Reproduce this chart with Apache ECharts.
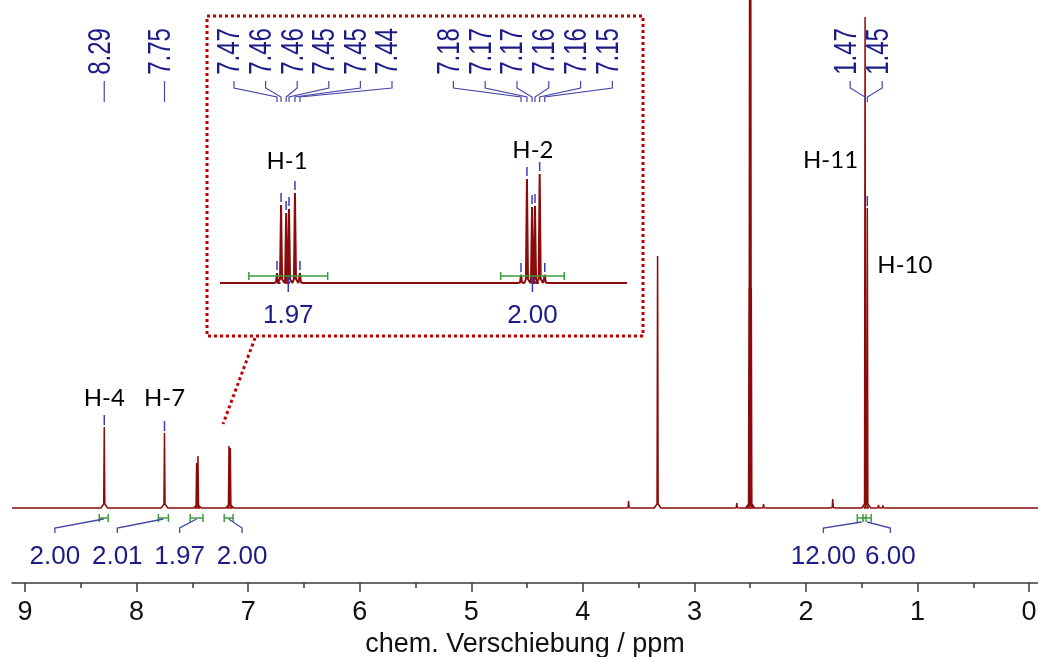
<!DOCTYPE html>
<html><head><meta charset="utf-8">
<script src="https://cdn.jsdelivr.net/npm/echarts@6/dist/echarts.min.js"></script>
<style>html,body{margin:0;padding:0;background:#fff}#c{width:1038px;height:657px}</style>
</head><body><div id="c"></div>
<script>
// ================= DATA =================
const axisMajorTicks = [0, 1, 2, 3, 4, 5, 6, 7, 8, 9];
const axisMinorTicks = [0.5, 1.5, 2.5, 3.5, 4.5, 5.5, 6.5, 7.5, 8.5];
const axisTitle = 'chem. Verschiebung / ppm';

// main spectrum peaks (ppm, relative intensity)
const mainPeakPpm    = [8.29, 7.75, 7.462, 7.450, 7.172, 7.160, 3.59, 3.33, 3.08, 2.62, 2.51, 2.505, 2.50, 2.495, 2.49, 2.38, 1.76, 1.56, 1.47, 1.45, 1.35, 1.31, 1.17];
const mainPeakHeight = [81,   75,   45,    52,    62,    60,    7,    252,  1,    5,    220,  600,   700,  600,   220,  4,    9,    2,    491,  300,  3,    2.5,  2];
const mainPickedPpm  = [8.29, 7.75, 1.45];

// inset (expanded 7.53 – 7.05 ppm)
const insetRange     = [7.054, 7.534];
const insetPeakPpm    = [7.4668, 7.462, 7.456, 7.4526, 7.4456, 7.4397, 7.179, 7.172, 7.166, 7.1625, 7.157, 7.151];
const insetPeakHeight = [10,     78,    70,    74,     90,     10,     8,     104,   76,    77,     109,   8];

// chemical-shift labels
const shiftTextMain = ['8.29', '7.75'];
const shiftPpmMain  = [8.29, 7.75];
const shiftTextCH3  = ['1.47', '1.45'];
const shiftPpmCH3   = [1.47, 1.45];
const shiftTextH1   = ['7.47', '7.46', '7.46', '7.45', '7.45', '7.44'];
const shiftTextH2   = ['7.18', '7.17', '7.17', '7.16', '7.16', '7.15'];

// integrals
const integralFrom  = [8.335, 7.805, 7.52, 7.215, 1.54, 1.488];
const integralTo    = [8.255, 7.715, 7.405, 7.135, 1.462, 1.415];
const integralValue = ['2.00', '2.01', '1.97', '2.00', '12.00', '6.00'];
const insetIntegralFrom  = [7.500, 7.203];
const insetIntegralTo    = [7.407, 7.128];
const insetIntegralValue = ['1.97', '2.00'];

// assignments
const assignText = ['H-4', 'H-7', 'H-11', 'H-10'];
const assignPpm  = [8.29, 7.75, 1.47, 1.45];
const insetAssignText = ['H-1', 'H-2'];
const insetAssignPpm  = [7.455, 7.165];

// ================= STYLE =================
const RED = '#8b0a0a', BLUE_T = '#1c1c88', BLUE_L = '#4646a8', BLUE_K = '#3c3cb8', GREEN = '#3a9e3a', AX = '#3a3a3a';
const NUMFONT = '"Liberation Sans", Arial, sans-serif';
const HFONT = 'Lato, "Open Sans", sans-serif';

function buildSpectrum(ppm, h, lo, hi, w, foot) {
  const idx = ppm.map((_, i) => i).sort((a, b) => ppm[b] - ppm[a]);
  const pts = [[hi, 0]];
  idx.forEach(i => {
    const p = ppm[i], v = h[i], f = Math.min(v * 0.05, 4);
    pts.push([p + foot, 0], [p + w, f], [p, v], [p - w, f], [p - foot, 0]);
  });
  pts.push([lo, 0]);
  return pts;
}

const XMIN = -0.08, XMAX = 9.117;
const option = {
  animation: false,
  backgroundColor: '#fff',
  grid: [
    {left: 12, right: 0, top: 0, bottom: 74, containLabel: false, outerBoundsMode: 'none'},
    {left: 220, right: 411, top: 100, bottom: 374, containLabel: false, outerBoundsMode: 'none'},
    {left: 12, right: 0, top: 0, bottom: 74, containLabel: false, outerBoundsMode: 'none'}
  ],
  xAxis: [
    {gridIndex: 0, type: 'value', inverse: true, min: XMIN, max: XMAX, position: 'bottom',
     axisLine: {onZero: false, lineStyle: {color: AX, width: 1.5}},
     axisTick: {customValues: axisMajorTicks, length: 9, lineStyle: {color: AX, width: 1.5}},
     axisLabel: {customValues: axisMajorTicks, fontSize: 27, color: '#111', margin: 16, fontFamily: NUMFONT},
     splitLine: {show: false},
     name: axisTitle, nameLocation: 'middle', nameGap: 45,
     nameTextStyle: {fontSize: 27, color: '#111', fontFamily: NUMFONT}},
    {gridIndex: 1, type: 'value', inverse: true, min: insetRange[0], max: insetRange[1], show: false},
    {gridIndex: 2, type: 'value', inverse: true, min: XMIN, max: XMAX, position: 'bottom',
     axisLine: {show: false, onZero: false},
     axisTick: {customValues: axisMinorTicks, length: 5, lineStyle: {color: AX, width: 1.5}},
     axisLabel: {show: false}, splitLine: {show: false}}
  ],
  yAxis: [
    {gridIndex: 0, type: 'value', min: -75, max: 508, show: false},
    {gridIndex: 1, type: 'value', min: 0, max: 183, show: false},
    {gridIndex: 2, type: 'value', min: 0, max: 1, show: false}
  ],
  series: [
    {type: 'line', xAxisIndex: 0, yAxisIndex: 0, symbol: 'none', clip: true,
     lineStyle: {color: RED, width: 1.5},
     data: buildSpectrum(mainPeakPpm, mainPeakHeight, XMIN, XMAX, 0.005, 0.03)},
    {type: 'line', xAxisIndex: 1, yAxisIndex: 1, symbol: 'none', clip: true,
     lineStyle: {color: RED, width: 2},
     data: buildSpectrum(insetPeakPpm, insetPeakHeight, insetRange[0], insetRange[1], 0.0012, 0.004)}
  ]
};

const chart = echarts.init(document.getElementById('c'));
chart.setOption(option);

// ================= ANNOTATIONS (positions from the axes) =================
const P = (ppm, v) => chart.convertToPixel({gridIndex: 0}, [ppm, v]);
const Q = (ppm, v) => chart.convertToPixel({gridIndex: 1}, [ppm, v]);
const G = [];
const poly = (pts, color, w, dash) => G.push({type: 'polyline', silent: true, z: 10,
  shape: {points: pts}, style: {stroke: color, lineWidth: w, fill: null, lineDash: dash || null}});
const txt = (x, y, s, font, color, align, rot, sy) => G.push({type: 'text', silent: true, z: 11, x: x, y: y,
  rotation: rot || 0, scaleY: sy || 1,
  style: {text: s, font: font, fill: color, align: align || 'center', verticalAlign: 'middle',
          textAlign: align || 'center', textVerticalAlign: 'middle'}});

// inset frame + connector
poly([[207, 16], [643, 16], [643, 336], [207, 336], [207, 16]], '#c00000', 3, [3, 3]);
poly([[255, 338], [223, 424]], '#c00000', 3, [3, 3]);

// shift label groups
function shiftGroup(labels, peakXs, center, spacing) {
  const n = labels.length;
  labels.forEach((s, i) => {
    const xl = center + (i - (n - 1) / 2) * spacing;
    const xp = peakXs[i];
    txt(xl - 3, 51.5, s, '24px ' + NUMFONT, BLUE_T, 'center', Math.PI / 2, 1.28);
    poly([[xl, 81], [xl, 88], [xp, 97], [xp, 102]], BLUE_L, 1.2);
  });
}
shiftPpmMain.forEach((p, i) => { const x = P(p, 0)[0]; shiftGroup([shiftTextMain[i]], [x], x, 0); });
const ch3X = shiftPpmCH3.map(p => P(p, 0)[0]);
shiftGroup(shiftTextCH3, ch3X, (ch3X[0] + ch3X[1]) / 2, 32);
const h1X = insetPeakPpm.slice(0, 6).map(p => Q(p, 0)[0]);
const h2X = insetPeakPpm.slice(6).map(p => Q(p, 0)[0]);
shiftGroup(shiftTextH1, h1X, Q(insetAssignPpm[0], 0)[0] + 26, 31.6);
shiftGroup(shiftTextH2, h2X, Q(insetAssignPpm[1], 0)[0], 31.8);

// peak pick ticks
mainPickedPpm.forEach(p => {
  const h = mainPeakHeight[mainPeakPpm.indexOf(p)];
  const t = P(p, h);
  poly([[t[0], t[1] - 2], [t[0], t[1] - 12]], BLUE_K, 1.5);
});
insetPeakPpm.forEach((p, i) => {
  const t = Q(p, insetPeakHeight[i]);
  poly([[t[0], t[1] - 3], [t[0], t[1] - 12]], BLUE_K, 1.5);
});

// main integrals
const base = P(0, 0)[1];
const intCenters = integralFrom.map((f, i) => (P(f, 0)[0] + P(integralTo[i], 0)[0]) / 2);
integralFrom.forEach((f, i) => {
  const x1 = P(f, 0)[0], x2 = P(integralTo[i], 0)[0], y = base + 10;
  poly([[x1, y], [x2, y]], GREEN, 1.5);
  poly([[x1, y - 4], [x1, y + 4]], GREEN, 1.5);
  poly([[x2, y - 4], [x2, y + 4]], GREEN, 1.5);
});
const intGroups = [{members: [0, 1, 2, 3], spacing: 62.4, shift: -24.6, y0: 11},
                   {members: [4, 5], spacing: 67, shift: -7.5, y0: 14}];
intGroups.forEach(g => {
  const c = g.members.reduce((s, k) => s + intCenters[k], 0) / g.members.length + g.shift;
  const n = g.members.length;
  g.members.forEach((k, j) => {
    const xl = c + (j - (n - 1) / 2) * g.spacing;
    poly([[intCenters[k], base + g.y0], [xl, base + 20], [xl, base + 25]], BLUE_L, 1.3);
    txt(xl, base + 49, integralValue[k], '26px ' + NUMFONT, BLUE_T, 'center');
  });
});

// inset integrals
const ibase = Q(insetRange[0], 0)[1];
insetIntegralFrom.forEach((f, i) => {
  const x1 = Q(f, 0)[0], x2 = Q(insetIntegralTo[i], 0)[0], y = ibase - 7, xc = (x1 + x2) / 2;
  poly([[x1, y], [x2, y]], GREEN, 1.5);
  poly([[x1, y - 4], [x1, y + 4]], GREEN, 1.5);
  poly([[x2, y - 4], [x2, y + 4]], GREEN, 1.5);
  poly([[xc, ibase - 6], [xc, ibase + 9]], BLUE_K, 1.5);
  txt(xc, ibase + 33, insetIntegralValue[i], '26px ' + NUMFONT, BLUE_T, 'center');
});

// assignments
const aX = assignPpm.map(p => P(p, 0)[0]);
txt(aX[0], 398, assignText[0], '24px ' + HFONT, '#000', 'center');
txt(aX[1], 398, assignText[1], '24px ' + HFONT, '#000', 'center');
txt(aX[2] - 7, 160, assignText[2], '24px ' + HFONT, '#000', 'right');
txt(aX[3] + 10, 265, assignText[3], '24px ' + HFONT, '#000', 'left');
txt(Q(insetAssignPpm[0], 0)[0], 161, insetAssignText[0], '24px ' + HFONT, '#000', 'center');
txt(Q(insetAssignPpm[1], 0)[0], 150, insetAssignText[1], '24px ' + HFONT, '#000', 'center');

chart.setOption({graphic: {elements: G}});
</script>
</body></html>
